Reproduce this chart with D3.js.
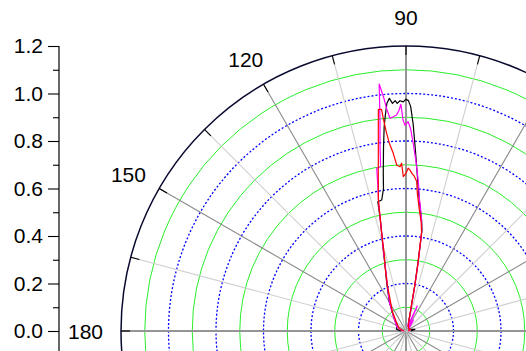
<!DOCTYPE html>
<html>
<head>
<meta charset="utf-8">
<script src="https://cdn.jsdelivr.net/npm/d3@7"></script>
<style>
  html, body { margin: 0; padding: 0; background: #ffffff; }
  svg { display: block; }
  text { font-family: "Liberation Sans", Arial, sans-serif; }
</style>
</head>
<body>
<svg id="chart" width="526" height="351"></svg>
<script>
// Radial axis ticks and angular labels
const radialMajorTicks = [0.0, 0.2, 0.4, 0.6, 0.8, 1.0, 1.2];
const radialMinorTicks = [0.1, 0.3, 0.5, 0.7, 0.9, 1.1];
const gridRings = [0.1, 0.2, 0.3, 0.4, 0.5, 0.6, 0.7, 0.8, 0.9, 1.0, 1.1];
const angleLabels = [90, 120, 150, 180];

// Series 1 (black): angle in degrees, normalised intensity
const blackAngles = [0, 10, 20, 35, 50, 62, 70, 75, 77, 78, 79, 80, 81, 82, 83, 84, 85, 86, 87, 88,
  88.8, 89.4, 90, 90.7, 91.5, 92.2, 92.7, 93.4, 94.1, 94.8, 95.5, 96.1, 97, 98.2, 99, 100.5,
  102.3, 103, 104, 105.7, 108, 112, 120, 131, 150, 170, 180];
const blackValues = [0.02, 0.038, 0.02, 0.015, 0.02, 0.03, 0.03, 0.05, 0.08, 0.11, 0.19, 0.29, 0.43, 0.472, 0.505, 0.545, 0.596, 0.67, 0.76, 0.87,
  0.945, 0.97, 0.976, 0.965, 0.97, 0.959, 0.971, 0.96, 0.982, 0.962, 0.91, 0.865, 0.777, 0.671, 0.606, 0.561,
  0.557, 0.48, 0.423, 0.354, 0.283, 0.217, 0.14, 0.08, 0.045, 0.04, 0.02];

// Series 2 (magenta)
const magentaAngles = [0, 15, 30, 45, 56, 60, 65.7, 69, 74, 76, 77, 78, 79, 80, 81, 82, 83, 84, 85.2, 86.7,
  87.8, 88.7, 89.4, 90.3, 90.8, 91.3, 91.8, 92.5, 93.4, 94.3, 95, 95.5, 96.2, 97, 98, 98.8,
  100.2, 101, 102, 103, 104, 105.7, 108, 112, 120, 131, 155, 170, 180];
const magentaValues = [0.01, 0.02, 0.015, 0.02, 0.056, 0.02, 0.115, 0.02, 0.04, 0.07, 0.09, 0.12, 0.2, 0.3, 0.42, 0.47, 0.51, 0.55, 0.626, 0.72,
  0.79, 0.852, 0.881, 0.867, 0.889, 0.955, 0.93, 0.91, 0.904, 0.898, 0.941, 0.991, 1.046, 0.898, 0.787, 0.70,
  0.696, 0.62, 0.555, 0.48, 0.42, 0.35, 0.28, 0.21, 0.14, 0.08, 0.043, 0.02, 0.01];

// Series 3 (red)
const redAngles = [0, 20, 40, 60, 70, 75, 77, 78, 79, 80, 81, 82, 83, 83.7, 85.3, 85.9, 86.9, 87.9, 88.6, 89.2,
  90, 91, 91.5, 92.1, 93.2, 94.1, 95, 95.6, 96.1, 96.3, 97.1, 98, 99, 100, 101, 101.9,
  103, 104, 106, 108, 112, 117, 125, 140, 160, 180];
const redValues = [0.01, 0.02, 0.015, 0.02, 0.03, 0.05, 0.08, 0.11, 0.19, 0.29, 0.42, 0.46, 0.49, 0.512, 0.582, 0.631, 0.652, 0.665, 0.678, 0.686,
  0.664, 0.65, 0.707, 0.692, 0.70, 0.75, 0.79, 0.836, 0.899, 0.939, 0.941, 0.838, 0.745, 0.672, 0.611, 0.564,
  0.48, 0.424, 0.33, 0.285, 0.21, 0.147, 0.1, 0.05, 0.03, 0.01];

const series = [
  { name: "black", color: "#000000", angles: blackAngles, values: blackValues },
  { name: "magenta", color: "#ff00ff", angles: magentaAngles, values: magentaValues },
  { name: "red", color: "#ff0000", angles: redAngles, values: redValues }
];

const svg = d3.select("#chart");
const width = 526, height = 351;
const cx = 406, cy = 331, R = 285;
const rMax = 1.2;

const r = d3.scaleLinear().domain([0, rMax]).range([0, R]);
const y = d3.scaleLinear().domain([0, rMax]).range([cy, cy - R]);
const toRad = deg => deg * Math.PI / 180;

svg.append("rect").attr("width", width).attr("height", height).attr("fill", "#ffffff");

const polar = svg.append("g").attr("transform", `translate(${cx},${cy})`);

// Concentric rings: odd tenths solid green, even tenths dotted blue
polar.append("g").selectAll("circle")
  .data(gridRings)
  .join("circle")
  .attr("r", d => r(d))
  .attr("fill", "none")
  .attr("stroke", (d, i) => i % 2 === 0 ? "#2aee2a" : "#0000ff")
  .attr("stroke-width", (d, i) => i % 2 === 0 ? 1 : 1.3)
  .attr("stroke-dasharray", (d, i) => i % 2 === 0 ? null : "2,2");

// Radial spokes every 15 degrees
const spokes = d3.range(0, 360, 15);
polar.append("g").selectAll("line")
  .data(spokes)
  .join("line")
  .attr("x1", 0).attr("y1", 0)
  .attr("x2", d => r(rMax) * Math.cos(toRad(d)))
  .attr("y2", d => -r(rMax) * Math.sin(toRad(d)))
  .attr("stroke", d => d % 90 === 0 ? "#959595" : (d % 30 === 0 ? "#8a8a8a" : "#cfcfcf"))
  .attr("stroke-width", d => d % 90 === 0 ? 2 : 1.1);

// Outer boundary
polar.append("circle")
  .attr("r", r(rMax))
  .attr("fill", "none")
  .attr("stroke", "#0a0a30")
  .attr("stroke-width", 1.5);

// Inward angular ticks on the boundary
polar.append("g").selectAll("line")
  .data(spokes)
  .join("line")
  .attr("x1", d => r(rMax) * Math.cos(toRad(d)))
  .attr("y1", d => -r(rMax) * Math.sin(toRad(d)))
  .attr("x2", d => (r(rMax) - 9) * Math.cos(toRad(d)))
  .attr("y2", d => -(r(rMax) - 9) * Math.sin(toRad(d)))
  .attr("stroke", "#000000")
  .attr("stroke-width", 1.1);

// Data curves
const radialLine = d3.lineRadial()
  .angle(d => toRad(90 - d[0]))
  .radius(d => r(d[1]));

polar.append("g").selectAll("path")
  .data(series)
  .join("path")
  .attr("d", s => radialLine(s.angles.map((a, i) => [a, s.values[i]])))
  .attr("fill", "none")
  .attr("stroke", s => s.color)
  .attr("stroke-width", 1.2)
  .attr("stroke-linejoin", "round");

// Angular labels placed just outside the boundary
const labelSize = 21;
const labelGap = 18;
const labels = polar.append("g").selectAll("text")
  .data(angleLabels)
  .join("text")
  .attr("font-size", labelSize)
  .attr("fill", "#000000")
  .attr("text-anchor", "middle")
  .attr("dominant-baseline", "central")
  .text(d => d);
labels.each(function(d) {
  const w = this.getComputedTextLength() / 2;
  const h = labelSize / 2;
  const c = Math.cos(toRad(d)), s = Math.sin(toRad(d));
  const rr = r(rMax) + labelGap;
  d3.select(this)
    .attr("x", rr * c + w * c)
    .attr("y", -(rr * s + h * s));
});

// Left radial scale
const axisX = 59;
const axisG = svg.append("g").attr("transform", `translate(${axisX},0)`);
axisG.call(d3.axisLeft(y)
  .tickValues(radialMajorTicks)
  .tickFormat(d3.format(".1f"))
  .tickSize(11)
  .tickSizeOuter(0)
  .tickPadding(5));
axisG.append("g").call(d3.axisLeft(y)
  .tickValues(radialMinorTicks)
  .tickFormat("")
  .tickSize(6)
  .tickSizeOuter(0));
axisG.selectAll(".domain").remove();
axisG.selectAll("line").attr("stroke", "#000000").attr("stroke-width", 1.1);
axisG.selectAll("text")
  .attr("font-size", labelSize)
  .attr("font-family", "'Liberation Sans', Arial, sans-serif")
  .attr("fill", "#000000");
axisG.append("line")
  .attr("x1", 0).attr("x2", 0)
  .attr("y1", y(rMax)).attr("y2", height)
  .attr("stroke", "#000000")
  .attr("stroke-width", 1.2);
</script>
</body>
</html>
